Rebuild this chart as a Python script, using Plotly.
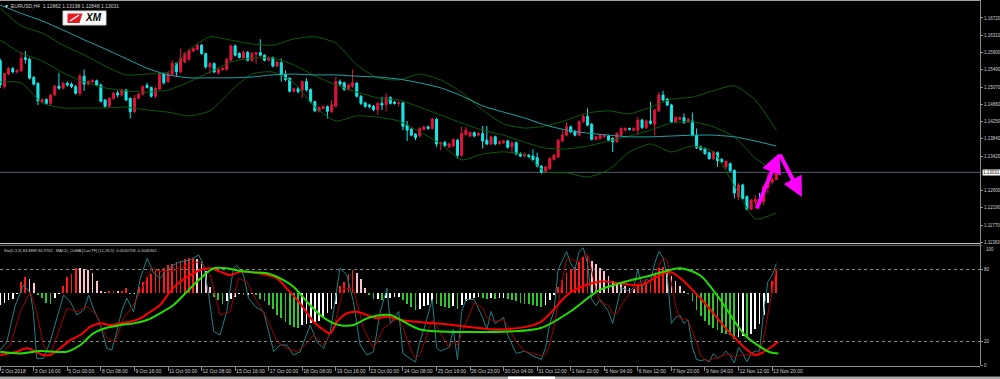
import plotly.graph_objects as go

# ---------------- data (prices in 1/10000 units) ----------------
OPEN = [11570,11508,11538,11551,11543,11546,11577,11573,11530,11516,11472,11477,11468,11488,11509,11504,11516,11514,11508,11492,
        11533,11514,11519,11522,11512,11476,11461,11480,11493,11488,11500,11480,11448,11480,11490,11511,11506,11485,11502,11538,
        11520,11537,11563,11543,11567,11573,11593,11597,11607,11587,11555,11563,11541,11549,11549,11571,11605,11587,11577,11590,
        11571,11586,11589,11583,11571,11577,11557,11565,11537,11528,11497,11503,11500,11520,11501,11472,11450,11456,11460,11448,
        11461,11520,11517,11501,11509,11516,11485,11469,11464,11461,11453,11468,11465,11482,11471,11468,11469,11416,11406,11394,
        11390,11406,11412,11408,11430,11371,11375,11364,11366,11380,11344,11394,11390,11398,11392,11396,11380,11371,11388,11372,
        11374,11378,11364,11374,11348,11342,11344,11342,11338,11318,11304,11312,11334,11340,11378,11392,11412,11401,11392,11424,
        11437,11418,11382,11384,11388,11390,11384,11376,11392,11404,11408,11404,11404,11428,11410,11426,11418,11450,11488,11478,
        11464,11424,11430,11434,11424,11426,11392,11364,11360,11350,11336,11350,11334,11316,11324,11308,11245,11273,11245,11215,
        11233,11239,11233,11267,11280,11286]
HIGH = [11575,11541,11555,11555,11550,11591,11593,11577,11533,11518,11480,11480,11490,11512,11541,11519,11520,11518,11512,11539,
        11549,11523,11526,11525,11515,11478,11482,11495,11498,11503,11503,11482,11488,11493,11511,11517,11508,11507,11542,11541,
        11543,11571,11566,11599,11590,11598,11602,11611,11610,11589,11567,11566,11552,11555,11576,11609,11609,11590,11593,11593,
        11591,11591,11621,11585,11580,11580,11570,11575,11547,11530,11506,11508,11523,11528,11504,11474,11461,11463,11463,11476,
        11531,11525,11520,11515,11549,11519,11488,11472,11467,11464,11471,11484,11492,11485,11474,11472,11472,11426,11409,11397,
        11411,11415,11415,11433,11433,11376,11378,11374,11384,11383,11412,11412,11401,11401,11399,11414,11414,11391,11391,11380,
        11381,11381,11377,11377,11351,11350,11347,11358,11350,11321,11319,11339,11347,11383,11404,11424,11415,11404,11428,11442,
        11456,11421,11391,11395,11394,11393,11387,11399,11411,11411,11410,11411,11436,11431,11429,11472,11455,11495,11498,11481,
        11467,11437,11437,11444,11433,11446,11408,11367,11363,11353,11355,11353,11337,11331,11327,11310,11277,11276,11248,11240,
        11249,11254,11272,11301,11292,11320]
LOW = [11505,11503,11535,11540,11540,11543,11563,11525,11510,11464,11468,11465,11464,11486,11500,11502,11508,11504,11489,11485,
       11498,11511,11516,11509,11470,11457,11457,11477,11482,11485,11473,11432,11445,11478,11487,11503,11482,11480,11500,11513,
       11517,11534,11533,11540,11564,11570,11590,11594,11584,11551,11539,11540,11537,11546,11546,11568,11580,11575,11574,11568,
       11567,11563,11580,11568,11568,11554,11554,11520,11520,11494,11494,11492,11481,11496,11468,11447,11446,11454,11432,11445,
       11458,11510,11498,11498,11505,11482,11464,11457,11456,11449,11440,11452,11448,11465,11465,11460,11404,11378,11389,11380,
       11387,11403,11405,11405,11364,11356,11364,11361,11363,11336,11341,11391,11387,11387,11389,11360,11368,11368,11368,11369,
       11371,11360,11348,11344,11339,11339,11337,11331,11315,11300,11301,11309,11331,11337,11375,11389,11397,11389,11389,11421,
       11413,11379,11379,11381,11385,11377,11352,11373,11389,11401,11403,11401,11392,11407,11407,11417,11392,11447,11473,11461,
       11421,11421,11427,11419,11421,11389,11359,11355,11345,11333,11333,11316,11325,11311,11304,11241,11237,11238,11212,11212,
       11225,11230,11225,11253,11274,11285]
CLOSE = [11512,11539,11551,11543,11546,11575,11573,11528,11514,11474,11477,11468,11488,11509,11504,11516,11512,11508,11492,11533,
         11514,11520,11522,11512,11473,11461,11480,11492,11488,11500,11476,11448,11480,11490,11508,11506,11485,11504,11539,11517,
         11539,11563,11543,11575,11587,11595,11599,11607,11587,11555,11563,11543,11549,11551,11573,11605,11583,11578,11590,11571,
         11587,11589,11583,11571,11577,11557,11567,11535,11525,11497,11503,11496,11520,11500,11472,11450,11458,11460,11449,11464,
         11520,11514,11501,11512,11517,11485,11468,11461,11460,11453,11468,11464,11482,11468,11468,11469,11413,11404,11392,11386,
         11408,11412,11408,11430,11371,11374,11367,11371,11382,11344,11396,11404,11398,11390,11396,11378,11371,11388,11371,11376,
         11378,11363,11374,11347,11342,11347,11340,11334,11318,11304,11316,11336,11344,11380,11392,11412,11400,11392,11424,11437,
         11416,11382,11388,11392,11391,11380,11376,11396,11408,11408,11406,11408,11428,11410,11426,11420,11452,11488,11476,11464,
         11424,11434,11434,11422,11430,11392,11362,11358,11348,11336,11352,11331,11328,11330,11307,11254,11273,11241,11215,11237,
         11238,11233,11269,11285,11286,11303]
BARS = list(range(len(CLOSE)))
LAST_PRICE = 1.13031

# indicator lines sampled every 5 bars
BAND_X = list(range(0, 186, 5))
MA = [11703,11683,11665,11643,11620,11598,11575,11552,11536,11529,11529,11529,11531,11536,11538,11536,11536,11533,11531,
      11526,11517,11505,11486,11462,11447,11433,11416,11404,11397,11392,11388,11388,11390,11392,11392,11388,11378,11366]
BB_UP = [11696,11653,11636,11607,11584,11557,11536,11538,11543,11596,11627,11619,11610,11607,11622,11627,11612,11560,11529,
         11524,11538,11524,11495,11452,11419,11409,11414,11428,11445,11450,11443,11459,11478,11483,11498,11510,11476,11404]
BB_MID = [11619,11588,11569,11541,11519,11505,11498,11495,11500,11519,11543,11567,11576,11576,11560,11534,11512,11495,11481,
          11476,11459,11440,11421,11404,11392,11375,11361,11359,11366,11378,11390,11404,11421,11424,11412,11388,11337,11304]
BB_LOW = [11519,11517,11469,11457,11457,11457,11459,11452,11447,11438,11450,11498,11538,11543,11517,11459,11426,11438,11435,
          11426,11400,11371,11333,11347,11352,11345,11304,11302,11292,11309,11352,11371,11352,11366,11352,11271,11192,11206]

# OsMA histogram (display units of the lower window)
HIST = [-10,-8,-6,-5,-1,9,13,12,8,-2,-4,-8,-9,-4,-1,6,13,16,21,20.5,20,19.5,17,10,2,1,1.2,1.5,1.2,2,4,-1,-0.5,5,9,13,16,19,20,21,
        23,24,26,27,28,29,29.5,28,26,18,5,-3,-6,-9,-7,-5,-3,-1,-2,-1.5,-1,-2,-5,-7,-10,-13,-18,-21,-24,-27,-28,-29,-27,-26,-25,-24,
        -23,-20,-17,-13,-9,6,9,16,19,17,12,4,-2,-5,-4.8,-6,-4,
        -4,-3,-3,-6,-9,-12,-14,-13,-11,-10,-7,-9,-11,-12,-12.5,-11,-13,-10,-7,-5,-4,-3,-4,-5,-4,-5,-4.5,-4,-5,-5.5,-7,-8.5,-9,-9.5,
        -10,-11,-12,-10,-6,-2,5,11,17,20,22,26,30,31,27,24,21,18,14,10,9,8,6,4,3,6,7,9,11,16,21,22,20,14,10,6,2,-1,-7,-14,-19,-23,
        -27,-29,-31,-33,-34,-35,-38,-37,-36,-37,-34,-30,-26,-18,-8,10,20]
HIST_ZERO = 60.5

STO_K_X = [0,1.6,3.6,5.6,7.2,7.9,8.7,10.3,11.9,13.9,15.1,16.7,18.3,19.9,21.1,22.2,23.8,25.4,26.6,27.8,29,30.2,31.8,33.4,35,
           36.6,38.1,39.7,41.3,42.9,45.3,47.3,48.5,49.7,50.9,52.4,54,55.6,56.4,58,59.2,60.8,62.8,65.2,66.7,68.3,69.9,71.5,72.7,
           73.9,75.5,77.1,78.7,80.3,81,82.6,84.2,85.8,87.4,89,90.6,92.2,
           93,95,96,98,99,100,101,103,104,105,107,108,109,110,111,113,115,116,117,118,120,121,123,125,127,129,130,131,132,133,
           134,135,136,137,138,139,140,141,142,143,145,146,147,148,150,151,152,153,154,155,156,157,158,159,160,161,162,163,164,
           165,166,167,168,169,170,171,172,173,174,175,176,177,178,179,180,181,182,183,184,185]
STO_K = [12.9,19.8,50.4,67.1,60.1,44.8,5.9,5.9,19.8,44.8,58.7,53.2,42.1,46.2,58.7,47.6,35.1,14.3,12.9,28.2,46.2,56,44.8,72.6,
         89.3,76.8,72.6,79.6,83.7,86.5,87.9,92.1,83.7,58.7,28.2,25.4,44.8,81,83.7,75.4,56,49,44.8,11.5,17.1,17.1,8.7,11.5,22.6,
         33.7,19.8,14.3,28.2,67.1,81,75.4,53.2,17.1,8.7,11.5,44.8,64.3,
         35,45,10,5,3,20,30,55,15,12,15,30,5,45,55,55,40,30,45,35,40,25,10,12,8,5,15,35,45,80,88,95,85,80,95,98,85,55,50,55,45,
         35,50,65,62,65,80,65,72,70,85,95,90,75,35,40,42,35,38,15,5,4,5,3,10,6,8,12,8,2,15,10,3,10,12,12,45,70,75,84.9]
STO_D_X = [0,2.4,4.8,7.2,8.7,10.3,11.9,13.9,15.9,18.3,20.7,23,25.4,27.4,29.4,31.8,34.2,36.2,38.1,40.5,42.9,45.3,47.7,50.1,
           52.4,54.8,56.8,58.8,61.2,63.6,66,68.3,70.7,72.7,74.7,77.1,79.5,81.8,84.2,86.6,89,91.4,
           93,95,96,98,99,100,101,103,104,105,107,108,109,110,111,113,115,116,117,118,120,121,123,125,127,129,130,131,132,133,
           134,135,136,137,138,139,140,141,142,143,145,146,147,148,150,151,152,153,154,155,156,157,158,159,160,161,162,163,164,
           165,166,167,168,169,170,171,172,173,174,175,176,177,178,179,180,181,182,183,184,185]
STO_D = [8.7,17.1,44.8,61.5,44.8,17.1,8.7,28.2,47.6,44.8,49,42.1,22.6,19.8,39.3,50.4,67.1,81,78.2,78.2,81,85.1,86.5,75.4,42.1,
         44.8,72.6,69.8,53.2,39.3,19.8,14.3,11.5,17.1,25.4,17.1,31,64.3,64.3,31,14.3,31,
         35,40,32,12,6,9,18,38,33,27,15,20,17,27,35,52,48,40,38,37,38,33,20,12,10,8,9,18,32,53,71,88,89,87,87,91,93,79,63,53,50,
         43,43,50,60,63,69,70,72,69,76,83,90,87,67,50,39,39,38,29,19,8,5,4,6,6,8,9,9,7,8,9,9,8,8,11,23,42,63,81]
MACD_X = [0,4,6.4,10.3,11.9,14.3,16.7,19.1,21.5,23.8,26.2,28.6,31,33.4,35.8,38.1,40.5,42.9,45.3,47.7,50.1,52.4,54.8,57.2,60.4,
          63.6,66,68.3,71.5,74.7,77.1,78.7,80.3,82.6,85,87.4,89.8,92.2,95.4,107.3,119.2,128.7,135.9,143,152.6,159.7,166.9,174,
          180,185.5]
MACD = [8.7,11.5,14.3,8.7,8.7,14.3,21.2,25.4,32.3,35.1,33.7,35.1,36.5,39.3,44.8,50.4,61.5,69.8,75.4,79.6,81,78.2,75.4,78.2,
        77.6,75.4,72.6,64.3,51.8,36.5,29.6,26.8,36.5,43.5,44.8,42.1,39.3,40.7,38,34,30,36,61,70,67,78,56,27,9,20]
SIG_X = [0,4.8,9.5,15.9,19.1,22.2,25.4,28.6,31.8,35,38.1,41.3,44.5,47.7,50.9,54,57.2,60.4,63.6,66.7,69.9,73.1,76.3,79.5,81.8,
         84.2,87.4,89.8,93,100.1,112,128.7,135.9,143,155,162.1,166.9,171.6,177.6,183.5,185.5]
SIG = [11.5,10.1,12.1,11.5,17.1,26.8,31.5,33.7,35.1,37.9,43.5,50.4,61.5,72.6,81,81,78.7,77.6,76.8,72.6,65.7,53.2,42.1,35.1,
       33.2,33.7,39.3,41.5,42.1,30,28,31,45,63,75,81,75,55,25,11,10]

TICK_BARS = list(range(0, 185, 8))
TICK_TEXT = ["2 Oct 2018", "3 Oct 16:00", "5 Oct 00:00", "8 Oct 08:00", "9 Oct 16:00", "11 Oct 00:00", "12 Oct 08:00",
             "15 Oct 16:00", "17 Oct 00:00", "18 Oct 08:00", "19 Oct 16:00", "23 Oct 00:00", "24 Oct 08:00", "25 Oct 16:00",
             "26 Oct 23:00", "30 Oct 04:00", "31 Oct 12:00", "1 Nov 20:00", "5 Nov 04:00", "6 Nov 12:00", "7 Nov 20:00",
             "9 Nov 04:00", "12 Nov 12:00", "13 Nov 20:00"]
PRICE_TICKS = [1.16720, 1.16310, 1.15900, 1.15490, 1.15070, 1.14660, 1.14250, 1.13840, 1.13420,
               1.12600, 1.12190, 1.11770, 1.11360]
OSC_TICKS = [0, 20, 80]

# ---------------- styling ----------------
W, H = 1000, 379
def py(p):
    return 1 - p / H

BULL = "#e0143c"
BEAR = "#19e6e6"
AXC = "#8a8a8a"
TXT = "#d0d0d0"
FONT = "Liberation Sans"
XR = [-0.048, 233.56]
XD = [0, 0.98]

def s(v):
    return [x / 10000 for x in v]

fig = go.Figure()
fig.add_trace(go.Candlestick(
    x=BARS, open=s(OPEN), high=s(HIGH), low=s(LOW), close=s(CLOSE),
    increasing=dict(line=dict(color=BULL, width=1), fillcolor=BULL),
    decreasing=dict(line=dict(color=BEAR, width=1), fillcolor=BEAR),
    whiskerwidth=0, hoverinfo="skip", xaxis="x", yaxis="y", showlegend=False))
for arr, col in [(BB_UP, "#0b5d0b"), (BB_MID, "#0b5d0b"), (BB_LOW, "#0b5d0b"), (MA, "#1fa6aa")]:
    fig.add_trace(go.Scatter(x=BAND_X, y=s(arr), mode="lines", line=dict(color=col, width=1, shape="spline", smoothing=0.6),
                             hoverinfo="skip", showlegend=False, xaxis="x", yaxis="y"))

# histogram colours from direction
hcol = []
for i, v in enumerate(HIST):
    pv = HIST[i - 1] if i else v
    if v >= 0:
        hcol.append("#ff1a1a" if v >= pv else "#ffc0cb")
    else:
        hcol.append("#2ec82e" if v < pv else "#ffffff")
fig.add_trace(go.Bar(x=BARS, y=HIST, base=HIST_ZERO, width=0.42, marker=dict(color=hcol, line=dict(width=0)),
                     hoverinfo="skip", showlegend=False, xaxis="x2", yaxis="y2"))
fig.add_trace(go.Scatter(x=STO_K_X, y=STO_K, mode="lines", line=dict(color="#1f8080", width=1),
                         hoverinfo="skip", showlegend=False, xaxis="x2", yaxis="y2"))
fig.add_trace(go.Scatter(x=STO_D_X, y=STO_D, mode="lines", line=dict(color="#a00000", width=1),
                         hoverinfo="skip", showlegend=False, xaxis="x2", yaxis="y2"))
fig.add_trace(go.Scatter(x=MACD_X, y=MACD, mode="lines", line=dict(color="#ff0000", width=2, shape="spline", smoothing=0.8),
                         hoverinfo="skip", showlegend=False, xaxis="x2", yaxis="y2"))
fig.add_trace(go.Scatter(x=SIG_X, y=SIG, mode="lines", line=dict(color="#22dd00", width=2, shape="spline", smoothing=0.8),
                         hoverinfo="skip", showlegend=False, xaxis="x2", yaxis="y2"))

tf = dict(family=FONT, size=5, color=TXT)
tfy = dict(family=FONT, size=4.5, color=TXT)
fig.update_layout(
    width=W, height=H, autosize=False, margin=dict(l=0, r=0, t=0, b=0, autoexpand=False),
    paper_bgcolor="#000000", plot_bgcolor="#000000", showlegend=False,
    xaxis=dict(domain=XD, range=XR, anchor="y", visible=False, rangeslider=dict(visible=False), fixedrange=True,
               automargin=False),
    xaxis2=dict(domain=XD, range=XR, anchor="y2", showgrid=False, zeroline=False, showline=True, linecolor=AXC, linewidth=1,
                tickmode="array", tickvals=TICK_BARS, ticktext=TICK_TEXT, ticks="outside", ticklen=4, tickcolor=AXC,
                ticklabelposition="outside right", tickangle=0, tickfont=tf, automargin=False),
    yaxis=dict(domain=[py(243), py(1.5)], range=[1.11343, 1.17114], anchor="x", side="right", showgrid=False,
               zeroline=False, showline=False, tickmode="array", tickvals=PRICE_TICKS,
               ticktext=[f"{v:.5f}" for v in PRICE_TICKS], ticks="outside", ticklen=2, tickcolor=AXC, tickfont=tfy,
               automargin=False),
    yaxis2=dict(domain=[py(365.5), py(245.5)], range=[0, 100], anchor="x2", side="right", showgrid=False,
                zeroline=False, showline=False, tickmode="array", tickvals=OSC_TICKS,
                ticktext=[str(v) for v in OSC_TICKS], ticks="outside", ticklen=2, tickcolor=AXC, tickfont=tfy,
                automargin=False),
    bargap=0,
)

shapes = [
    dict(type="line", xref="paper", yref="y", x0=0, x1=0.98, y0=LAST_PRICE, y1=LAST_PRICE,
         line=dict(color="#4d5f6e", width=1), layer="below"),
    dict(type="line", xref="paper", yref="y2", x0=0, x1=0.98, y0=80, y1=80, line=dict(color="#8c8c8c", width=1, dash="dot"), layer="below"),
    dict(type="line", xref="paper", yref="y2", x0=0, x1=0.98, y0=20, y1=20, line=dict(color="#8c8c8c", width=1, dash="dot"), layer="below"),
    dict(type="line", xref="paper", yref="paper", x0=0, x1=0.98, y0=py(243.5), y1=py(243.5), line=dict(color="#bdbdbd", width=1)),
    dict(type="line", xref="paper", yref="paper", x0=0, x1=0.98, y0=py(245.3), y1=py(245.3), line=dict(color="#7a7a7a", width=1)),
    dict(type="line", xref="paper", yref="paper", x0=0.9805, x1=0.9805, y0=py(365.5), y1=1, line=dict(color=AXC, width=1)),
    dict(type="line", xref="paper", yref="y2", x0=0.9805, x1=0.9825, y0=100, y1=100, line=dict(color=AXC, width=1)),
    dict(type="line", xref="paper", yref="paper", x0=0, x1=0.98, y0=py(0.5), y1=py(0.5), line=dict(color="#a0a0a0", width=1)),
    dict(type="rect", xref="paper", yref="paper", x0=0, x1=1, y0=0, y1=py(376.5), fillcolor="#a6a6a6", line=dict(width=0)),
    dict(type="rect", xref="paper", yref="paper", x0=0.508, x1=0.555, y0=0, y1=py(376.5), fillcolor="#ffffff", line=dict(width=0)),
    # XM logo box
    dict(type="rect", xref="paper", yref="paper", x0=0.063, x1=0.106, y0=py(25), y1=py(11), fillcolor="#ffffff",
         line=dict(color="#d0d0d0", width=1)),
    dict(type="path", xref="paper", yref="paper",
         path=f"M 0.0675 {py(13.5)} L 0.0825 {py(13.5)} L 0.0795 {py(23)} L 0.0675 {py(23)} Z",
         fillcolor="#e31b23", line=dict(width=0)),
    dict(type="line", xref="paper", yref="paper", x0=0.070, x1=0.079, y0=py(21), y1=py(15),
         line=dict(color="#ffffff", width=1.5)),
]
fig.update_layout(shapes=shapes)

ann = [
    dict(x=0.002, y=py(6), xref="paper", yref="paper", text="▼", showarrow=False, xanchor="left", yanchor="middle",
         font=dict(family=FONT, size=5, color=TXT)),
    dict(x=0.009, y=py(6), xref="paper", yref="paper", text="EURUSD,H4  1.12862 1.13198 1.12848 1.13031", showarrow=False,
         xanchor="left", yanchor="middle", font=dict(family=FONT, size=5, color=TXT)),
    dict(x=0.002, y=py(250), xref="paper", yref="paper",
         text="Sto(5,3,3) 84.8889 80.9761   MACD_OsMA [CurrTF] (12,26,9) -0.0030708 -0.0040361", showarrow=False,
         xanchor="left", yanchor="middle", font=dict(family=FONT, size=4, color=TXT)),
    dict(x=0.0935, y=py(17.5), xref="paper", yref="paper", text="<b><i>XM</i></b>", showarrow=False,
         xanchor="center", yanchor="middle", font=dict(family=FONT, size=10, color="#000000")),
    dict(x=0.9835, y=py(249.5), xref="paper", yref="paper", text="100", showarrow=False, xanchor="left", yanchor="middle",
         font=tfy),
    dict(x=0.982, y=LAST_PRICE, xref="paper", yref="y", text="1.13031", showarrow=False, xanchor="left", yanchor="middle",
         bgcolor="#ffffff", borderpad=0, font=dict(family=FONT, size=4.5, color="#000000")),
    # magenta arrows
    dict(x=185.7, y=1.1349, ax=180.2, ay=1.1213, xref="x", yref="y", axref="x", ayref="y", showarrow=True,
         arrowhead=2, arrowsize=1, arrowwidth=4, arrowcolor="#ff00ff", text=""),
    dict(x=191.1, y=1.1244, ax=185.7, ay=1.1349, xref="x", yref="y", axref="x", ayref="y", showarrow=True,
         arrowhead=2, arrowsize=1, arrowwidth=4, arrowcolor="#ff00ff", text=""),
]
fig.update_layout(annotations=ann)

fig.write_html("out.html", config={"displayModeBar": False, "staticPlot": True},
               post_script="document.body.style.margin='0px';document.body.style.background='#000';")
